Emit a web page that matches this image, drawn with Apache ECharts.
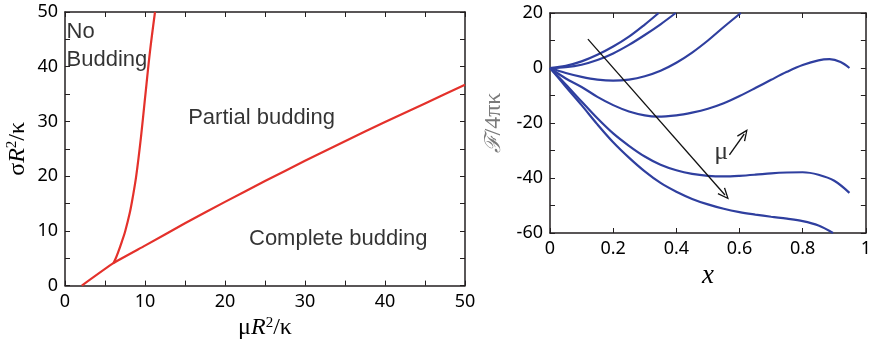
<!DOCTYPE html>
<html>
<head>
<meta charset="utf-8">
<script src="https://cdn.jsdelivr.net/npm/echarts@6/dist/echarts.min.js"></script>
<style>
  html, body { margin: 0; padding: 0; background: #fff; }
  #chart { width: 874px; height: 345px; }
</style>
</head>
<body>
<div id="chart"></div>
<script>
// left panel: phase boundaries, [muR^2/kappa, sigmaR^2/kappa]
const completeBoundary = [[2.1, 0], [6.05, 4.1], [10, 7.3], [15, 11.4], [20, 15.3], [25, 19.1], [30, 22.8],
    [35, 26.4], [40, 29.9], [45, 33.3], [50, 36.7]];
const noBuddingBoundary = [[6.05, 4.1], [6.35, 5], [6.67, 6.2], [7.1, 8], [7.5, 9.8], [8.1, 13.3], [8.5, 16.4],
    [8.9, 20], [9.5, 27.2], [10, 34.2], [10.6, 42.5], [11.25, 50]];
const phaseLabels = [
    { name: "No\nBudding", value: [0.2, 43.8] },
    { name: "Partial budding", value: [15.4, 30.7] },
    { name: "Complete budding", value: [23.0, 8.5] }
];

// right panel: free energy F/4πκ against x, one curve per μ
const curveA = [[0, 0], [0.05, 0.8], [0.1, 2.4], [0.15, 4.8], [0.2, 7.8], [0.25, 11.4], [0.3, 15.8], [0.344, 20]];
const curveB = [[0, 0], [0.05, 0.3], [0.1, 1.2], [0.15, 2.9], [0.2, 5.3], [0.25, 8.4], [0.3, 12], [0.35, 15.9], [0.398, 20]];
const curveC = [[0, 0], [0.05, -1.8], [0.1, -3.2], [0.15, -4.2], [0.2, -4.6], [0.25, -4.2], [0.3, -3.0], [0.35, -1.0],
    [0.4, 1.9], [0.45, 5.6], [0.5, 10.0], [0.55, 14.9], [0.604, 20]];
const curveD = [[0, 0], [0.05, -3.8], [0.1, -6.9], [0.15, -10.5], [0.2, -13.5], [0.25, -15.8], [0.3, -17.2], [0.34, -17.7],
    [0.4, -17.2], [0.45, -16.2], [0.5, -14.8], [0.55, -12.8], [0.6, -10.2], [0.65, -7.3], [0.7, -4.3], [0.75, -1.4],
    [0.8, 1.1], [0.85, 2.8], [0.885, 3.2], [0.92, 2.2], [0.948, 0]];
const curveE = [[0, 0], [0.05, -6], [0.1, -12.2], [0.15, -18.3], [0.2, -23.8], [0.25, -28.3], [0.3, -32.2], [0.35, -35.2],
    [0.4, -37.2], [0.45, -38.5], [0.5, -39.2], [0.55, -39.4], [0.6, -39.2], [0.65, -38.8], [0.7, -38.3], [0.75, -38],
    [0.8, -37.9], [0.85, -38.8], [0.9, -41], [0.948, -45.4]];
const curveF = [[0, 0], [0.05, -6.8], [0.1, -13.5], [0.15, -20.5], [0.2, -27], [0.25, -32.6], [0.3, -37.6], [0.35, -41.8],
    [0.4, -45], [0.45, -47.6], [0.5, -49.6], [0.55, -51.2], [0.6, -52.4], [0.65, -53.3], [0.7, -54.1], [0.75, -54.8],
    [0.8, -55.7], [0.85, -57.3], [0.896, -60]];
const freeEnergyCurves = [curveA, curveB, curveC, curveD, curveE, curveF];

// arrows: long one across the curves, short one beside μ
const muArrow = [[0.12, 10.5], [0.554, -46.2]];
const muHint = [[0.568, -31.6], [0.615, -24]];
const muLabel = { name: "μ", value: [0.52, -30.5] };

const INK = "#000";
const RED = "#e4312b";
const BLUE = "#2f3f9f";
const TICK_FONT = { fontFamily: "Noto Sans", fontSize: 18, color: INK, margin: 7 };
const chevron = "path://M5,0 L10,11 L8.8,11.6 L5,3 L1.2,11.6 L0,11 Z";

const chart = echarts.init(document.getElementById("chart"));

function frameAxis(gridIndex, position, min, max, interval, minorSplit, showLabel, extra) {
    return Object.assign({
        type: "value",
        gridIndex: gridIndex,
        position: position,
        min: min,
        max: max,
        interval: interval,
        axisLine: { show: true, onZero: false, lineStyle: { color: "#231f20", width: 1.5 } },
        axisTick: { show: true, inside: true, length: 5, lineStyle: { color: "#231f20", width: 1 } },
        minorTick: { show: minorSplit > 1, splitNumber: minorSplit, length: 5, lineStyle: { color: "#231f20", width: 1 } },
        splitLine: { show: false },
        axisLabel: Object.assign({ show: showLabel }, TICK_FONT)
    }, extra || {});
}

const serif = "Liberation Serif";
const nameRich = {
    s: { fontFamily: serif, fontSize: 24, color: INK },
    i: { fontFamily: serif, fontStyle: "italic", fontSize: 24, color: INK },
    sup: { fontFamily: serif, fontSize: 15, color: INK, verticalAlign: "top", padding: [0, 0, 10, 0] }
};
const greyRich = {
    s: { fontFamily: serif, fontSize: 24, color: "#7a7a7a" },
    f: { fontFamily: "DejaVu Serif", fontStyle: "italic", fontSize: 22, color: "#7a7a7a" }
};

chart.setOption({
    animation: false,
    grid: [
        { left: 65, top: 12, width: 400, height: 283 },
        { left: 550, top: 13, width: 320, height: 220 }
    ],
    xAxis: [
        frameAxis(0, "bottom", 0, 50, 10, 2, true, {
            name: "{s|μ}{i|R}{sup|2}{s|/κ}", nameLocation: "middle", nameGap: 25,
            nameTextStyle: { rich: nameRich }
        }),
        frameAxis(0, "top", 0, 50, 10, 2, false),
        frameAxis(1, "bottom", 0, 1, 0.2, 0, true, {
            name: "x", nameLocation: "middle", nameGap: 27,
            nameTextStyle: { fontFamily: serif, fontStyle: "italic", fontSize: 27, color: INK }
        }),
        frameAxis(1, "top", 0, 1, 0.2, 0, false)
    ],
    yAxis: [
        frameAxis(0, "left", 0, 50, 10, 2, true, {
            name: "{s|σ}{i|R}{sup|2}{s|/κ}", nameLocation: "middle", nameGap: 35, nameRotate: 90,
            nameTextStyle: { rich: nameRich }
        }),
        frameAxis(0, "right", 0, 50, 10, 2, false),
        frameAxis(1, "left", -60, 20, 20, 2, true, {
            name: "{f|ℱ}{s|/4πκ}", nameLocation: "middle", nameGap: 44, nameRotate: 90,
            nameTextStyle: { rich: greyRich }
        }),
        frameAxis(1, "right", -60, 20, 20, 2, false)
    ],
    series: [
        {
            type: "line", name: "complete", xAxisIndex: 0, yAxisIndex: 0,
            data: completeBoundary, showSymbol: false, smooth: 0.15,
            lineStyle: { color: RED, width: 2.2 }
        },
        {
            type: "line", name: "no budding", xAxisIndex: 0, yAxisIndex: 0,
            data: noBuddingBoundary, showSymbol: false, smooth: 0.35,
            lineStyle: { color: RED, width: 2.2 }
        },
        {
            type: "scatter", name: "phases", xAxisIndex: 0, yAxisIndex: 0,
            data: phaseLabels, symbolSize: 0, silent: true,
            label: {
                show: true, position: "right", distance: 0, formatter: "{b}",
                fontFamily: "Liberation Sans", fontSize: 22, lineHeight: 28, color: INK
            }
        },
        ...freeEnergyCurves.map((curve, idx) => ({
            type: "line", name: "mu" + idx, xAxisIndex: 2, yAxisIndex: 2,
            data: curve, showSymbol: false, smooth: 0.35, clip: true,
            lineStyle: { color: BLUE, width: 2.2 }
        })),
        {
            type: "scatter", name: "mu label", xAxisIndex: 2, yAxisIndex: 2,
            data: [muLabel], symbolSize: 0, silent: true,
            label: {
                show: true, position: "right", distance: 0, formatter: "{b}",
                fontFamily: serif, fontSize: 26, color: INK
            },
            markLine: {
                silent: true,
                symbol: ["none", chevron],
                symbolSize: [10, 12],
                label: { show: false },
                lineStyle: { color: "#111", width: 1.3, type: "solid" },
                data: [
                    [{ coord: muArrow[0] }, { coord: muArrow[1] }],
                    [{ coord: muHint[0] }, { coord: muHint[1] }]
                ]
            }
        }
    ],
    graphic: [
        // the left panel is cropped just after its last tick label
        { type: "rect", shape: { x: 470, y: 298, width: 30, height: 25 }, style: { fill: "#fff" } }
    ]
});
</script>
</body>
</html>
